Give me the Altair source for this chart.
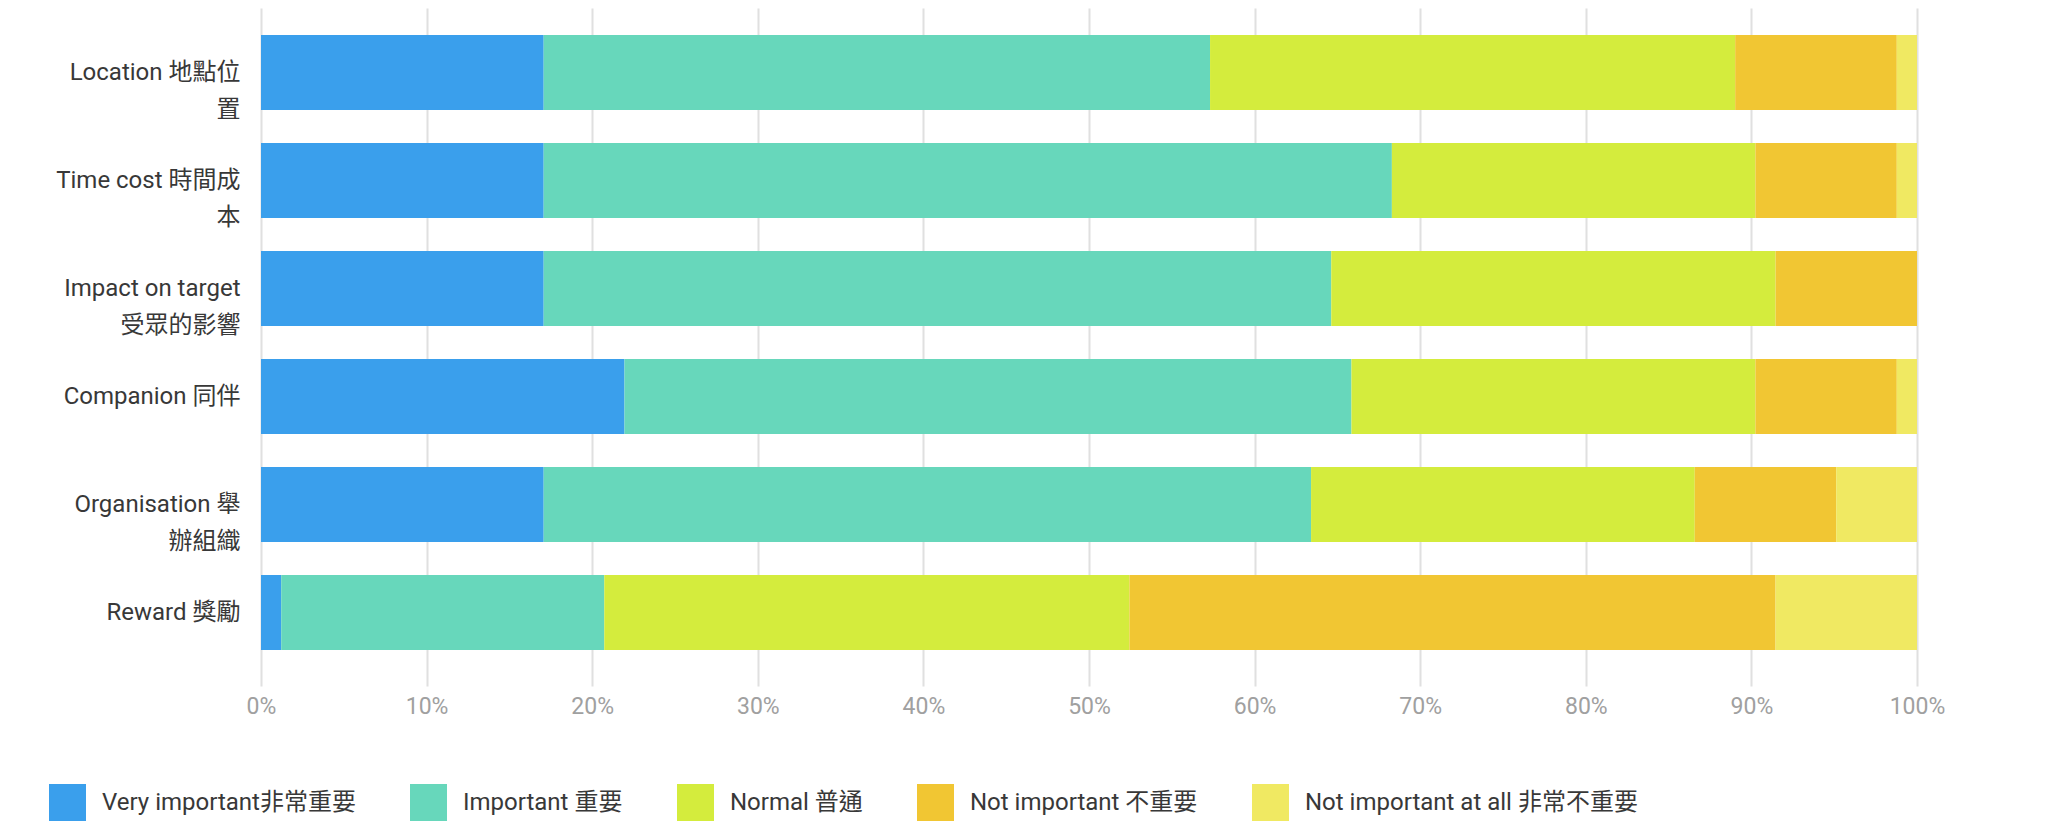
import json
import altair as alt
import pandas as pd

# ---- data (n = 82 respondents, shown as %) ----
categories = [
    "Location 地點位置",
    "Time cost 時間成本",
    "Impact on target 受眾的影響",
    "Companion 同伴",
    "Organisation 舉辦組織",
    "Reward 獎勵",
]
label_lines = [
    ["Location 地點位", "置"],
    ["Time cost 時間成", "本"],
    ["Impact on target", "受眾的影響"],
    ["Companion 同伴"],
    ["Organisation 舉", "辦組織"],
    ["Reward 獎勵"],
]
levels = [
    "Very important非常重要",
    "Important 重要",
    "Normal 普通",
    "Not important 不重要",
    "Not important at all 非常不重要",
]
very_important = [17.07, 17.07, 17.07, 21.95, 17.07, 1.22]
important = [40.24, 51.22, 47.56, 43.90, 46.34, 19.51]
normal = [31.71, 21.95, 26.83, 24.39, 23.17, 31.71]
not_important = [9.76, 8.54, 8.54, 8.54, 8.54, 39.02]
not_important_at_all = [1.22, 1.22, 0.0, 1.22, 4.88, 8.54]
tick_values = [0, 0.1, 0.2, 0.3, 0.4, 0.5, 0.6, 0.7, 0.8, 0.9, 1.0]

colors = ["#3A9FEC", "#67D7BB", "#D4EC3D", "#F1C633", "#F0E962"]

series = [very_important, important, normal, not_important, not_important_at_all]
records = []
for i, cat in enumerate(categories):
    for j, lvl in enumerate(levels):
        records.append({"category": cat, "level": lvl, "level_idx": j, "value": series[j][i]})
df = pd.DataFrame(records)

# multi-line y labels
expr = "datum.value"
for cat, lines in zip(reversed(categories), reversed(label_lines)):
    lit = json.dumps(lines if len(lines) > 1 else lines[0], ensure_ascii=False)
    expr = f"datum.value === {json.dumps(cat, ensure_ascii=False)} ? {lit} : ({expr})"

FONT = "Roboto, 'Noto Sans CJK TC', sans-serif"

chart = (
    alt.Chart(df)
    .mark_bar()
    .encode(
        y=alt.Y(
            "category:N",
            sort=categories,
            scale=alt.Scale(paddingInner=0.3056, paddingOuter=0.2917, align=0.4286),
            axis=alt.Axis(
                title=None,
                labelExpr=expr,
                ticks=False,
                domain=False,
                grid=False,
                labelFont=FONT,
                labelFontSize=24,
                labelLineHeight=37,
                labelPadding=21,
                labelColor="#383838",
                labelLimit=400,
            ),
        ),
        x=alt.X(
            "value:Q",
            stack="normalize",
            scale=alt.Scale(domain=[0, 1]),
            axis=alt.Axis(
                title=None,
                format=".0%",
                values=tick_values,
                grid=True,
                gridColor="#e0e0e0",
                gridWidth=2,
                domain=False,
                ticks=False,
                labelFont=FONT,
                labelFontSize=23,
                labelColor="#a0a0a0",
                labelPadding=9,
                labelFlush=False,
            ),
        ),
        color=alt.Color(
            "level:N",
            scale=alt.Scale(domain=levels, range=colors),
            legend=alt.Legend(
                title=None,
                orient="none",
                legendX=-212,
                legendY=776,
                direction="horizontal",
                padding=0,
                symbolType="square",
                symbolSize=1369,
                symbolStrokeWidth=0,
                symbolOpacity=1,
                labelFont=FONT,
                labelFontSize=24,
                labelColor="#383838",
                labelOffset=16,
                columnPadding=54,
                labelLimit=600,
            ),
        ),
        order=alt.Order("level_idx:Q"),
    )
    .properties(
        width=1656,
        height=678,
        autosize=alt.AutoSizeParams(type="none"),
        padding={"left": 253, "top": 0, "right": 123, "bottom": 135},
        background="white",
    )
    .configure_view(stroke=None)
)

chart.save("out.html", embed_options={"renderer": "svg", "actions": False})
